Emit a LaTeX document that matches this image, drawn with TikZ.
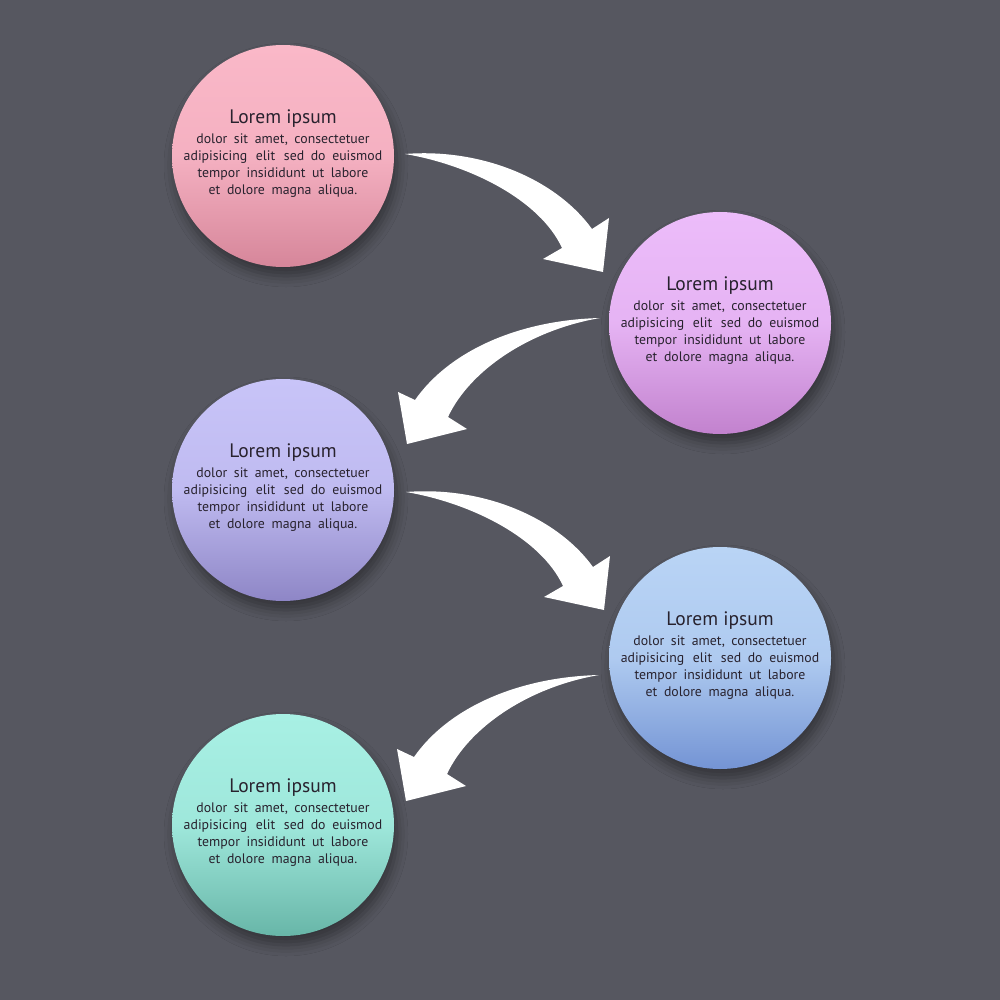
\documentclass[tikz,border=0pt]{standalone}
\usepackage{fontspec}
\setmainfont{PT Sans}
\newfontfamily\bodyfont[WordSpace=1.8]{PT Sans}
\usetikzlibrary{shadows.blur}
\definecolor{bg}{RGB}{86,87,96}
\definecolor{txt}{RGB}{40,34,46}
\definecolor{aT}{RGB}{250,184,200}\definecolor{aB}{RGB}{214,134,154}
\definecolor{bT}{RGB}{236,188,250}\definecolor{bB}{RGB}{194,130,206}
\definecolor{cT}{RGB}{200,196,248}\definecolor{cB}{RGB}{142,134,198}
\definecolor{dT}{RGB}{185,212,245}\definecolor{dB}{RGB}{116,148,212}
\definecolor{eT}{RGB}{168,240,228}\definecolor{eB}{RGB}{104,182,168}
\newcommand\arrowRight{%
  (405,154) .. controls (480,148) and (555,178) .. (592,229)
  -- (609,218) -- (603,272) -- (543,259) -- (562,248)
  .. controls (540,200) and (470,165) .. cycle}
\newcommand\arrowLeft{%
  (600,318) .. controls (520,320) and (450,350) .. (415,400)
  -- (398,392) -- (407,444) -- (467,429) -- (448,417)
  .. controls (470,370) and (530,330) .. cycle}
\newcommand\bodytext{dolor sit amet, consectetuer\\adipisicing\hspace{2pt} elit\hspace{2pt} sed do euismod\\tempor insididunt ut labore\\et dolore magna aliqua.}
\begin{document}
\begin{tikzpicture}[x=1pt,y=-1pt,
  bubble/.style={circle,minimum size=222pt,inner sep=0pt,
    blur shadow={shadow xshift=3pt,shadow yshift=-9pt,shadow blur radius=11pt,shadow opacity=40}},
  ttl/.style={font=\fontsize{19.5}{22}\selectfont,text=txt,inner sep=0pt},
  bdy/.style={font=\bodyfont\fontsize{13.8}{17}\selectfont,text=txt,align=center,inner sep=0pt},
  arrowshape/.style={fill=white}]
\fill[bg] (0,0) rectangle (1000,1000);
\useasboundingbox (0,0) rectangle (1000,1000);
\node[bubble,top color=aT,bottom color=aB,middle color=aT!85!aB] (c1) at (283,156) {};
\node[bubble,top color=bT,bottom color=bB,middle color=bT!85!bB] (c2) at (720,323) {};
\node[bubble,top color=cT,bottom color=cB,middle color=cT!85!cB] (c3) at (283,490) {};
\node[bubble,top color=dT,bottom color=dB,middle color=dT!85!dB] (c4) at (720,658) {};
\node[bubble,top color=eT,bottom color=eB,middle color=eT!85!eB] (c5) at (283,825) {};
\foreach \c in {c1,c2,c3,c4,c5}{
  \node[ttl] (\c t) at ([yshift=37pt]\c.center) {Lorem ipsum};
  \node[bdy] (\c b) at ([yshift=-9.5pt]\c.center) {\bodytext};
}
\fill[arrowshape] \arrowRight;
\fill[arrowshape] \arrowLeft;
\begin{scope}[shift={(1,338)}]\fill[arrowshape] \arrowRight;\end{scope}
\begin{scope}[shift={(-1,357)}]\fill[arrowshape] \arrowLeft;\end{scope}
\end{tikzpicture}
\end{document}
